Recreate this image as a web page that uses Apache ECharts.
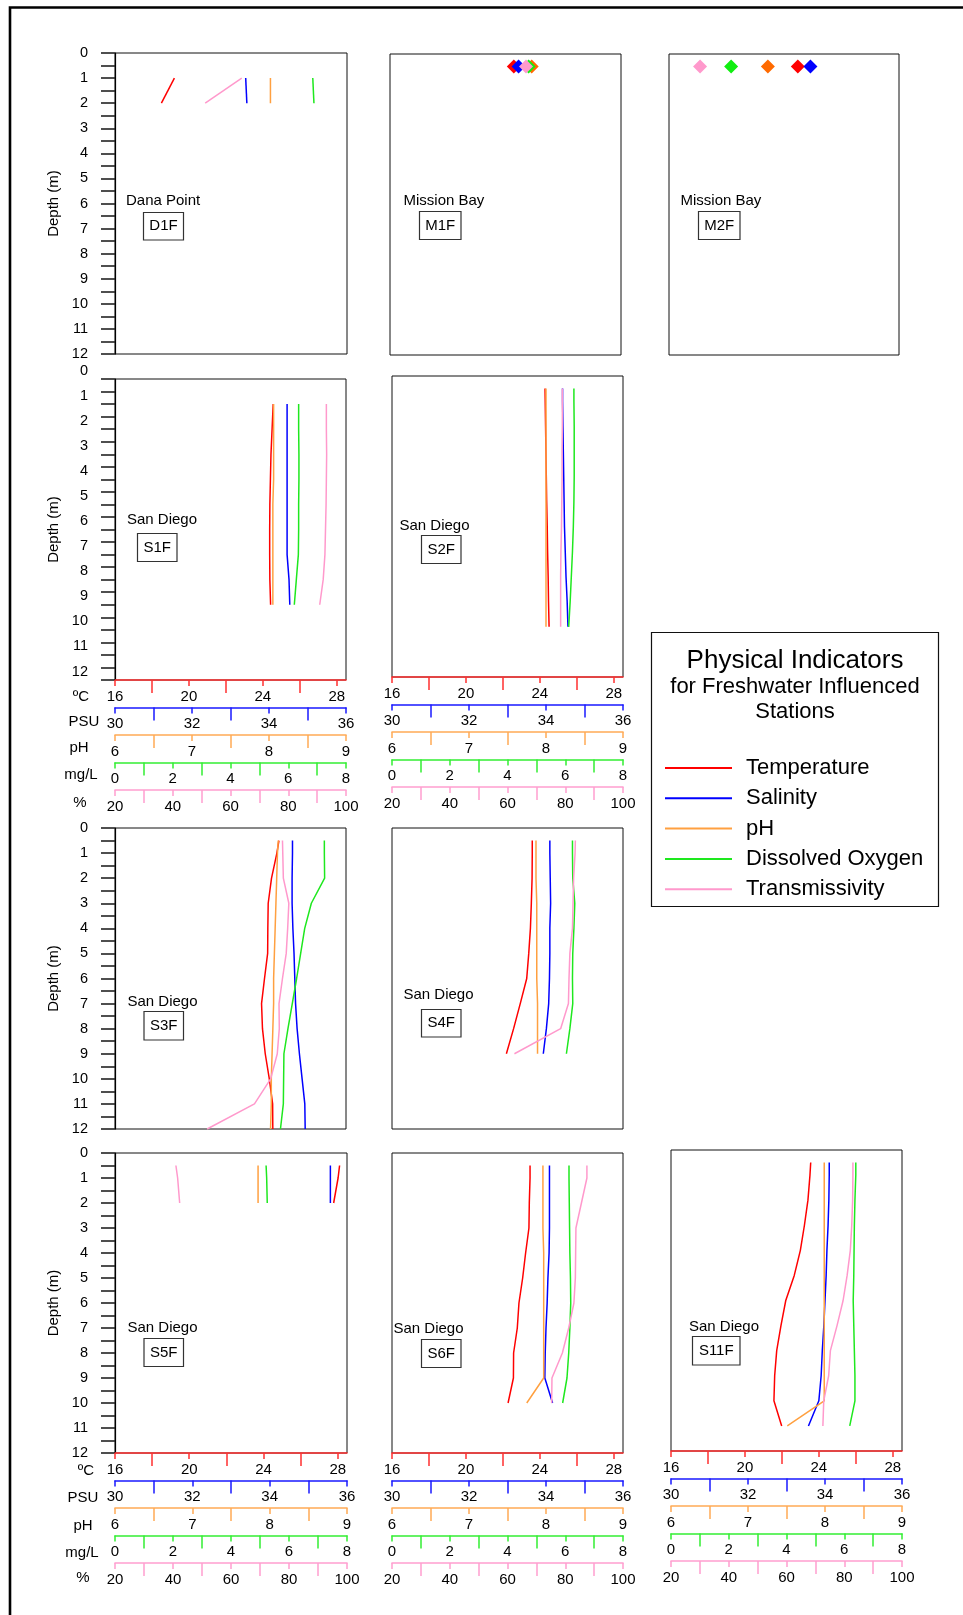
<!DOCTYPE html>
<html><head><meta charset="utf-8">
<script src="https://cdn.jsdelivr.net/npm/echarts@6.0.0/dist/echarts.min.js"></script>
<style>html,body{margin:0;padding:0;background:#fff}#c{width:963px;height:1615px}</style>
</head><body><div id="c"></div><script>
// ---------------- DATA ----------------
const varNames = ['Temperature', 'Salinity', 'pH', 'Dissolved Oxygen', 'Transmissivity'];
const unitNames = ['ºC', 'PSU', 'pH', 'mg/L', '%'];
const axisMin = [16, 30, 6, 0, 20];
const axisMax = [28.5, 36, 9, 8, 100];
const labelStep = [4, 2, 1, 2, 20];
const tempTicks = [16, 20, 24, 28];
const psuTicks = [30, 32, 34, 36];
const phTicks = [6, 7, 8, 9];
const doTicks = [0, 2, 4, 6, 8];
const transTicks = [20, 40, 60, 80, 100];
const depthMin = 0, depthMax = 12;

const stations = ['D1F', 'M1F', 'M2F', 'S1F', 'S2F', 'S3F', 'S4F', 'S5F', 'S6F', 'S11F'];
const places = ['Dana Point', 'Mission Bay', 'Mission Bay', 'San Diego', 'San Diego', 'San Diego', 'San Diego', 'San Diego', 'San Diego', 'San Diego'];

const D1F_depth = [1, 2];
const D1F_temp = [19.2, 18.5];
const D1F_psu = [33.38, 33.41];
const D1F_ph = [8.01, 8.01];
const D1F_do = [6.82, 6.86];
const D1F_trans = [63.7, 51.1];

const M1F_depth = [0.5];
const M1F_temp = [22.7];
const M1F_psu = [33.34];
const M1F_ph = [7.84];
const M1F_do = [4.80];
const M1F_trans = [67.1];

const M2F_depth = [0.5];
const M2F_temp = [23.0];
const M2F_psu = [33.69];
const M2F_ph = [7.29];
const M2F_do = [2.16];
const M2F_trans = [30.8];

const S1F_depth = [1, 2, 3, 4, 5, 6, 7, 8, 9];
const S1F_temp = [24.56, 24.50, 24.44, 24.41, 24.38, 24.37, 24.37, 24.38, 24.42];
const S1F_psu = [34.47, 34.47, 34.47, 34.47, 34.47, 34.47, 34.47, 34.52, 34.54];
const S1F_ph = [8.06, 8.06, 8.06, 8.06, 8.05, 8.05, 8.05, 8.05, 8.05];
const S1F_do = [6.36, 6.36, 6.37, 6.37, 6.36, 6.36, 6.35, 6.28, 6.21];
const S1F_trans = [93.2, 93.2, 93.3, 93.2, 93.1, 92.9, 92.7, 92.1, 90.9];

const S2F_depth = [0.5, 1, 2, 3, 4, 5, 6, 7, 8, 9, 10];
const S2F_temp = [24.28, 24.29, 24.31, 24.33, 24.35, 24.37, 24.40, 24.42, 24.45, 24.47, 24.50];
const S2F_psu = [34.43, 34.43, 34.44, 34.45, 34.46, 34.47, 34.48, 34.50, 34.52, 34.55, 34.57];
const S2F_ph = [8.00, 8.00, 8.00, 8.00, 8.00, 8.00, 8.00, 8.00, 8.00, 8.00, 8.00];
const S2F_do = [6.30, 6.30, 6.31, 6.31, 6.31, 6.30, 6.28, 6.25, 6.21, 6.17, 6.12];
const S2F_trans = [79.0, 79.0, 79.0, 78.9, 78.9, 78.8, 78.7, 78.5, 78.4, 78.4, 78.4];

const S3F_depth = [0.5, 1, 2, 3, 4, 5, 6, 7, 8, 9, 10, 11, 12];
const S3F_temp = [24.87, 24.76, 24.47, 24.29, 24.27, 24.26, 24.09, 23.93, 23.98, 24.13, 24.35, 24.53, 24.54];
const S3F_psu = [34.61, 34.61, 34.60, 34.60, 34.62, 34.65, 34.67, 34.69, 34.73, 34.79, 34.86, 34.93, 34.94];
const S3F_ph = [8.12, 8.11, 8.10, 8.09, 8.08, 8.07, 8.06, 8.06, 8.05, 8.04, 8.03, 8.03, 8.02];
const S3F_do = [7.25, 7.25, 7.26, 6.80, 6.57, 6.43, 6.29, 6.14, 5.99, 5.85, 5.84, 5.83, 5.73];
const S3F_trans = [78.0, 78.1, 78.3, 80.2, 79.8, 79.3, 78.0, 76.8, 76.9, 76.2, 73.9, 68.3, 51.9];

const S4F_depth = [0.5, 1, 2, 3, 4, 5, 6, 7, 8, 9];
const S4F_temp = [23.59, 23.59, 23.58, 23.54, 23.49, 23.40, 23.29, 22.94, 22.58, 22.19];
const S4F_psu = [34.10, 34.10, 34.11, 34.12, 34.10, 34.10, 34.09, 34.07, 34.01, 33.93];
const S4F_ph = [7.87, 7.87, 7.87, 7.88, 7.88, 7.88, 7.88, 7.89, 7.89, 7.89];
const S4F_do = [6.25, 6.25, 6.26, 6.33, 6.30, 6.26, 6.25, 6.26, 6.16, 6.04];
const S4F_trans = [83.5, 83.4, 82.9, 82.7, 82.5, 81.6, 81.3, 81.1, 78.4, 62.4];

const S5F_depth = [0.5, 1, 2];
const S5F_temp = [28.10, 28.02, 27.78];
const S5F_psu = [35.57, 35.57, 35.57];
const S5F_ph = [7.85, 7.85, 7.85];
const S5F_do = [5.21, 5.23, 5.25];
const S5F_trans = [41.0, 41.6, 42.3];

const S6F_depth = [0.5, 1, 2, 3, 4, 5, 6, 7, 8, 9, 10];
const S6F_temp = [23.47, 23.47, 23.43, 23.41, 23.23, 23.07, 22.87, 22.78, 22.58, 22.57, 22.28];
const S6F_psu = [34.09, 34.09, 34.09, 34.09, 34.08, 34.05, 34.03, 34.00, 33.98, 33.97, 34.17];
const S6F_ph = [7.96, 7.96, 7.96, 7.96, 7.97, 7.97, 7.97, 7.97, 7.97, 7.97, 7.75];
const S6F_do = [6.13, 6.13, 6.14, 6.15, 6.16, 6.18, 6.19, 6.16, 6.12, 6.06, 5.91];
const S6F_trans = [87.5, 87.5, 85.6, 83.7, 83.6, 83.5, 83.0, 81.2, 79.0, 75.4, 75.3];

const S11F_depth = [0.5, 1, 2, 3, 4, 5, 6, 7, 8, 9, 10, 11];
const S11F_temp = [23.56, 23.52, 23.41, 23.22, 23.00, 22.67, 22.21, 21.95, 21.72, 21.61, 21.57, 21.99];
const S11F_psu = [34.11, 34.11, 34.10, 34.08, 34.05, 34.03, 34.00, 33.97, 33.93, 33.90, 33.84, 33.57];
const S11F_ph = [7.99, 7.99, 7.99, 7.99, 7.99, 7.99, 7.99, 7.99, 7.99, 7.99, 7.99, 7.51];
const S11F_do = [6.40, 6.40, 6.37, 6.35, 6.34, 6.33, 6.31, 6.33, 6.35, 6.37, 6.37, 6.19];
const S11F_trans = [83.0, 83.0, 82.9, 82.6, 82.1, 81.0, 79.6, 77.5, 75.2, 74.6, 72.9, 72.6];

// ---------------- LAYOUT / STYLE ----------------
const FONT = '"Liberation Sans", Arial, Helvetica, sans-serif';
const lineColors = ['#ff0000', '#0000ff', '#ffa040', '#1ee81e', '#ff99cc'];
const axisColors = ['#ff3030', '#1a1aff', '#ffaa55', '#33ee33', '#ff9fd0'];
const markerColors = ['#ff0000', '#0000ff', '#ff6a00', '#11ee11', '#ff99cc'];
const tickVals = [tempTicks, psuTicks, phTicks, doTicks, transTicks];
// [left, top, width, height]
const gridBoxes = [
  [115, 53, 232, 301], [390, 54, 231, 301], [669, 54, 230, 301],
  [115, 379, 231, 301], [392, 376, 231, 301],
  [115, 828, 231, 301], [392, 828, 231, 301],
  [115, 1153, 232, 300], [392, 1153, 231, 300], [671, 1150, 231, 301]
];
const yAxisStations = ['D1F', 'S1F', 'S3F', 'S5F'];
const xAxisStations = ['S1F', 'S2F', 'S5F', 'S6F', 'S11F'];
const markerStationsList = ['M1F', 'M2F'];
const shiftedYLabels = ['S1F'];
// station label: [placeTextX, placeTextY, boxX, boxY, boxW, boxH]
const labelPos = [
  [126, 201, 143.5, 212.5, 40, 27.5],
  [403.5, 201, 419.5, 211.5, 41.5, 28],
  [680.5, 201, 698.5, 211.5, 41.5, 28],
  [127, 520, 137.5, 533.5, 39.5, 28],
  [399.5, 526, 421.5, 535.5, 39.5, 28],
  [127.5, 1002, 144, 1011.5, 39.5, 28.5],
  [403.5, 995, 421.5, 1009.5, 39.5, 27.5],
  [127.5, 1328, 144, 1338.5, 39.5, 28],
  [393.5, 1329, 421.5, 1339.5, 39.5, 28],
  [689, 1327, 692.5, 1336.5, 47.5, 28.5]
];
// unit label centers per axis row for stations with units
const unitPos = {
  S1F: [[81, 697], [84, 722], [79, 748], [81, 775], [80, 803]],
  S5F: [[86, 1471], [83, 1497.5], [83, 1526], [82, 1553], [83, 1578]]
};
const AXIS_GAP = 27.5;

const allData = {
  D1F: [D1F_depth, [D1F_temp, D1F_psu, D1F_ph, D1F_do, D1F_trans]],
  M1F: [M1F_depth, [M1F_temp, M1F_psu, M1F_ph, M1F_do, M1F_trans]],
  M2F: [M2F_depth, [M2F_temp, M2F_psu, M2F_ph, M2F_do, M2F_trans]],
  S1F: [S1F_depth, [S1F_temp, S1F_psu, S1F_ph, S1F_do, S1F_trans]],
  S2F: [S2F_depth, [S2F_temp, S2F_psu, S2F_ph, S2F_do, S2F_trans]],
  S3F: [S3F_depth, [S3F_temp, S3F_psu, S3F_ph, S3F_do, S3F_trans]],
  S4F: [S4F_depth, [S4F_temp, S4F_psu, S4F_ph, S4F_do, S4F_trans]],
  S5F: [S5F_depth, [S5F_temp, S5F_psu, S5F_ph, S5F_do, S5F_trans]],
  S6F: [S6F_depth, [S6F_temp, S6F_psu, S6F_ph, S6F_do, S6F_trans]],
  S11F: [S11F_depth, [S11F_temp, S11F_psu, S11F_ph, S11F_do, S11F_trans]]
};

const grids = [], xAxes = [], yAxes = [], series = [], graphics = [];

// outer frame (only left & top visible in page)
graphics.push({ type: 'rect', shape: { x: 10, y: 7.5, width: 1200, height: 1800 },
  style: { fill: 'none', stroke: '#000', lineWidth: 2.6 }, z: 0, silent: true });

stations.forEach((st, g) => {
  const [l, t, w, h] = gridBoxes[g];
  grids.push({ left: l, top: t, width: w, height: h, show: true, borderColor: '#111', borderWidth: 1,
    backgroundColor: 'transparent', containLabel: false, outerBoundsMode: 'none' });
  const showX = xAxisStations.includes(st);
  varNames.forEach((nm, k) => {
    xAxes.push({
      gridIndex: g, type: 'value', position: 'bottom', offset: k * AXIS_GAP,
      min: axisMin[k], max: axisMax[k], interval: labelStep[k], show: showX,
      axisLine: { show: true, onZero: false, lineStyle: { color: axisColors[k], width: 1.6 } },
      axisTick: { show: true, length: 6, customValues: tickVals[k], lineStyle: { color: axisColors[k], width: 1.5 } },
      minorTick: { show: true, splitNumber: 2, length: 13, lineStyle: { color: axisColors[k], width: 1.5 } },
      axisLabel: { show: true, customValues: tickVals[k], color: '#000', fontSize: 15, fontFamily: FONT, margin: 9 },
      splitLine: { show: false }, minorSplitLine: { show: false }
    });
  });
  const showY = yAxisStations.includes(st);
  const shifted = shiftedYLabels.includes(st);
  const yLabel = { color: '#000', fontSize: 14.5, fontFamily: FONT, margin: 27 };
  if (shifted) { yLabel.verticalAlign = 'bottom'; yLabel.lineHeight = 17; }
  yAxes.push({
    gridIndex: g, type: 'value', position: 'left', inverse: true, min: depthMin, max: depthMax, interval: 1,
    show: showY,
    axisLine: { show: true, onZero: false, lineStyle: { color: '#000', width: 1.2 } },
    axisTick: { show: true, length: 14, lineStyle: { color: '#222', width: 1.6 } },
    minorTick: { show: true, splitNumber: 2, length: 14, lineStyle: { color: '#222', width: 1.6 } },
    axisLabel: yLabel,
    splitLine: { show: false }, minorSplitLine: { show: false },
    name: 'Depth (m)', nameLocation: 'middle', nameGap: 54, nameRotate: 90,
    nameTextStyle: { color: '#000', fontSize: 15, fontFamily: FONT }
  });

  const [depth, vals] = allData[st];
  const isMarker = markerStationsList.includes(st);
  varNames.forEach((nm, k) => {
    const data = depth.map((d, i) => [vals[k][i], d]);
    if (isMarker) {
      series.push({ type: 'scatter', name: nm, xAxisIndex: g * 5 + k, yAxisIndex: g, data,
        symbol: 'diamond', symbolSize: 14, itemStyle: { color: markerColors[k], opacity: 1 },
        silent: true, z: 3 });
    } else {
      series.push({ type: 'line', name: nm, xAxisIndex: g * 5 + k, yAxisIndex: g, data,
        symbol: 'none', showSymbol: false, clip: false,
        lineStyle: { color: lineColors[k], width: 1.5 }, itemStyle: { color: lineColors[k] },
        silent: true, z: 3 });
    }
  });

  // station labels
  const [tx, ty, bx, by, bw, bh] = labelPos[g];
  graphics.push({ type: 'text', x: tx, y: ty, silent: true,
    style: { text: places[g], fill: '#000', font: '15px ' + FONT, textAlign: 'left', textVerticalAlign: 'middle', align: 'left', verticalAlign: 'middle' } });
  graphics.push({ type: 'rect', shape: { x: bx, y: by, width: bw, height: bh }, silent: true,
    style: { fill: '#fff', stroke: '#333', lineWidth: 1.2 } });
  graphics.push({ type: 'text', x: bx + bw / 2, y: by + bh / 2, silent: true,
    style: { text: st, fill: '#000', font: '15px ' + FONT, textAlign: 'center', textVerticalAlign: 'middle', align: 'center', verticalAlign: 'middle' } });

  if (unitPos[st]) {
    unitPos[st].forEach((p, k) => {
      graphics.push({ type: 'text', x: p[0], y: p[1], silent: true,
        style: { text: unitNames[k], fill: '#000', font: '15px ' + FONT, textAlign: 'center', textVerticalAlign: 'middle', align: 'center', verticalAlign: 'middle' } });
    });
  }
});

// legend box & title
graphics.push({ type: 'rect', shape: { x: 651.5, y: 632.5, width: 287, height: 274 }, silent: true,
  style: { fill: 'none', stroke: '#111', lineWidth: 1.2 } });
const titleLines = [['Physical Indicators', 26, 660.5], ['for Freshwater Influenced', 22, 686.5], ['Stations', 22, 711.5]];
titleLines.forEach(([txt, fs, y]) => {
  graphics.push({ type: 'text', x: 795, y: y, silent: true,
    style: { text: txt, fill: '#000', font: fs + 'px ' + FONT, textAlign: 'center', textVerticalAlign: 'middle', align: 'center', verticalAlign: 'middle' } });
});

const option = {
  animation: false,
  backgroundColor: '#fff',
  textStyle: { fontFamily: FONT },
  grid: grids,
  xAxis: xAxes,
  yAxis: yAxes,
  series: series,
  legend: {
    data: varNames, orient: 'vertical', left: 665, top: 757, padding: 0,
    itemWidth: 67, itemHeight: 2, icon: 'rect', itemGap: 8.3, selectedMode: false,
    textStyle: { color: '#000', fontSize: 22, fontFamily: FONT, lineHeight: 22, padding: [0, 0, 0, 9] }
  },
  graphic: { elements: graphics }
};

const chart = echarts.init(document.getElementById('c'), null, { renderer: 'canvas', width: 963, height: 1615 });
chart.setOption(option);
</script></body></html>
